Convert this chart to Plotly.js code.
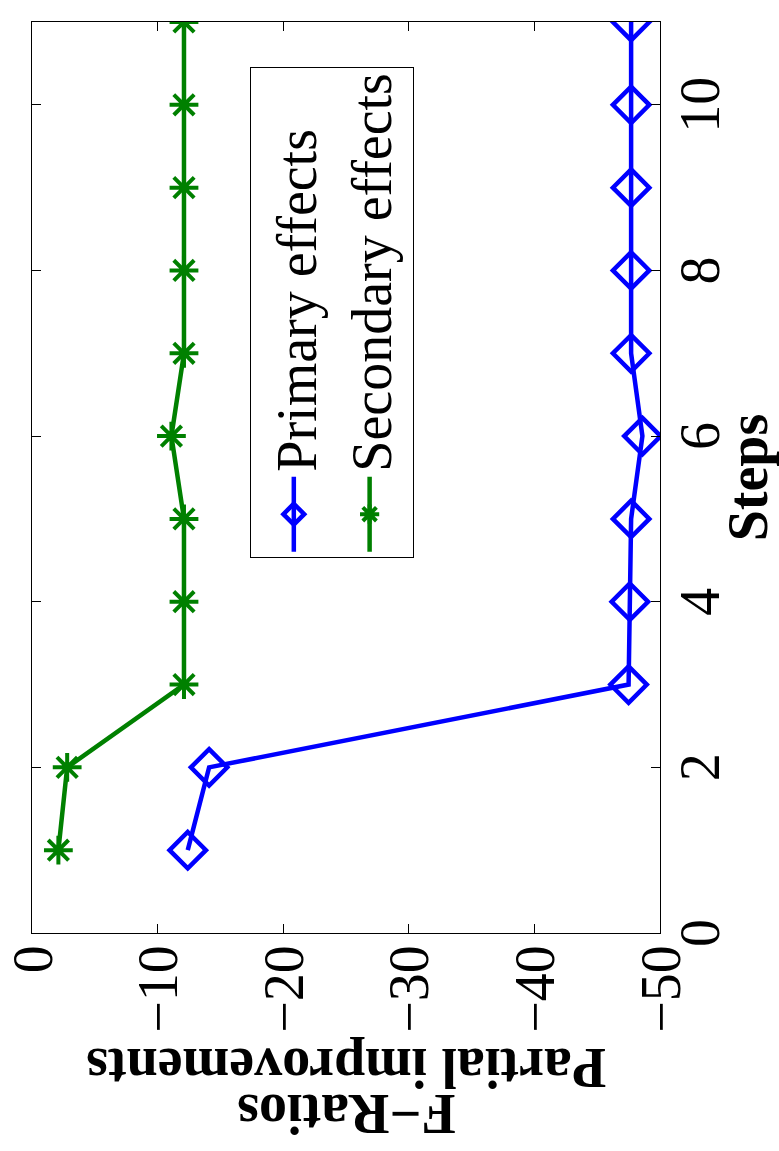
<!DOCTYPE html>
<html>
<head>
<meta charset="utf-8">
<script src="https://cdn.plot.ly/plotly-3.0.1.min.js"></script>
<style>
  html, body { margin: 0; padding: 0; overflow: hidden; background: #fff; width: 779px; height: 1151px; }
  #plot { position: absolute; left: 0; top: 0; width: 1151px; height: 779px;
          transform-origin: 0 0; transform: translate(0px, 1151px) rotate(-90deg); }
</style>
</head>
<body>
<div id="plot"></div>
<script>
// Data
const steps = [1, 2, 3, 4, 5, 6, 7, 8, 9, 10, 11];
const primaryEffects = [-12.4, -14.1, -47.5, -47.6, -47.7, -48.6, -47.7, -47.7, -47.7, -47.7, -47.7];
const secondaryEffects = [-2.1, -2.8, -12.1, -12.1, -12.1, -11.1, -12.1, -12.1, -12.1, -12.1, -12.1];
const seriesNames = ["Primary effects", "Secondary effects"];
const xTickVals = [0, 2, 4, 6, 8, 10];
const yTickVals = [0, -10, -20, -30, -40, -50];
const xTitle = "Steps";
const yTitleLines = ["F\u2212Ratios", "Partial improvements"];

const FONT = "Liberation Serif";

const traces = [
  {
    x: steps, y: primaryEffects, name: seriesNames[0], type: "scatter", mode: "lines+markers",
    line: { color: "#0000ff", width: 4.5 },
    marker: { symbol: "diamond-open", size: 28, color: "#0000ff", line: { color: "#0000ff", width: 4.5 } }
  },
  {
    x: steps, y: secondaryEffects, name: seriesNames[1], type: "scatter", mode: "lines+markers",
    line: { color: "#008000", width: 4.5 },
    marker: { symbol: "asterisk-open", size: 24, color: "#008000", line: { color: "#008000", width: 4 } }
  }
];

const layout = {
  width: 1151, height: 779,
  margin: { l: 218, r: 22, t: 32, b: 119, autoexpand: false },
  paper_bgcolor: "#ffffff", plot_bgcolor: "#ffffff",
  font: { family: FONT, size: 56, color: "#000" },
  showlegend: true,
  legend: {
    x: 0.412, y: 0.653, xanchor: "left", yanchor: "top",
    bgcolor: "#ffffff", bordercolor: "#000", borderwidth: 1,
    font: { family: FONT, size: 56, color: "#000" },
    tracegroupgap: 0, itemwidth: 75
  },
  xaxis: {
    range: [0, 11], tickvals: xTickVals, ticktext: xTickVals.map(String),
    ticks: "inside", ticklen: 9, tickwidth: 1, tickcolor: "#000",
    showline: true, linecolor: "#000", linewidth: 1, mirror: "ticks",
    showgrid: false, zeroline: false, automargin: false,
    ticklabelstandoff: -9,
    tickfont: { family: FONT, size: 56 },
    title: { text: "<b>" + xTitle + "</b>", font: { family: FONT, size: 56 }, standoff: 14 }
  },
  yaxis: {
    range: [-50, 0], tickvals: yTickVals, ticktext: yTickVals.map(v => v < 0 ? "\u2212" + Math.abs(v) : String(v)),
    ticks: "inside", ticklen: 9, tickwidth: 1, tickcolor: "#000",
    showline: true, linecolor: "#000", linewidth: 1, mirror: "ticks",
    showgrid: false, zeroline: false, automargin: false,
    tickfont: { family: FONT, size: 56 }
  },
  annotations: [
    { text: "<b>" + yTitleLines[0] + "</b>", xref: "paper", yref: "paper", x: -0.199, y: 0.5,
      xanchor: "center", yanchor: "middle", textangle: -90, showarrow: false, borderpad: 0,
      font: { family: FONT, size: 56, color: "#000" } },
    { text: "<b>" + yTitleLines[1] + "</b>", xref: "paper", yref: "paper", x: -0.148, y: 0.5,
      xanchor: "center", yanchor: "middle", textangle: -90, showarrow: false, borderpad: 0,
      font: { family: FONT, size: 56, color: "#000" } }
  ]
};

Plotly.newPlot("plot", traces, layout, { displayModeBar: false, staticPlot: true });
</script>
</body>
</html>
